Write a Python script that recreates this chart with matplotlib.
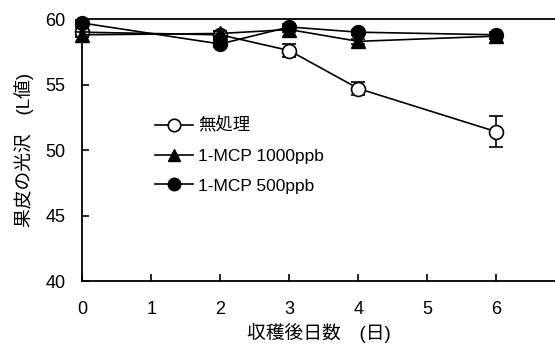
import matplotlib.pyplot as plt

plt.rcParams['font.family'] = ['Liberation Sans', 'Noto Sans CJK JP', 'DejaVu Sans']

# data
days = [0, 2, 3, 4, 6]
control = [59.0, 58.8, 57.6, 54.7, 51.4]
control_err = [0.3, 0.3, 0.5, 0.5, 1.2]
mcp1000 = [58.8, 58.9, 59.2, 58.3, 58.7]
mcp1000_err = [0.2, 0.2, 0.2, 0.2, 0.2]
mcp500 = [59.7, 58.1, 59.4, 59.0, 58.8]
mcp500_err = [0.2, 0.2, 0.2, 0.2, 0.2]
labels = ['無処理', '1-MCP 1000ppb', '1-MCP 500ppb']

fig = plt.figure(figsize=(5.55, 3.47), dpi=100)
ax = fig.add_axes([0.148, 0.19, 0.852, 0.755])

kw = dict(color='black', lw=1.2, capsize=5, elinewidth=1.2, capthick=1.2,
          ms=10, clip_on=False)
ax.errorbar(days, control, yerr=control_err, fmt='-o', mfc='white',
            mec='black', mew=1.2, label=labels[0], zorder=3, **kw)
ax.errorbar(days, mcp1000, yerr=mcp1000_err, fmt='-^', mfc='black',
            mec='black', label=labels[1], zorder=4, **kw)
ax.errorbar(days, mcp500, yerr=mcp500_err, fmt='-o', mfc='black',
            mec='black', label=labels[2], zorder=5, **kw)

ax.set_xlim(0, 6.85)
ax.set_ylim(40, 60)
ax.set_xticks(range(7))
ax.set_yticks([40, 45, 50, 55, 60])
ax.spines['right'].set_visible(False)
for s in ['left', 'bottom', 'top']:
    ax.spines[s].set_linewidth(1.3)
ax.tick_params(direction='in', length=5, width=1.2, labelsize=13, pad=12)
ax.tick_params(axis='x', pad=14)

ax.set_xlabel('収穫後日数　(日)', fontsize=13.5, labelpad=4)
ax.set_ylabel('果皮の光沢　(L値)', fontsize=13.5, labelpad=8)

handles, labs = ax.get_legend_handles_labels()
handles = [h[0] for h in handles]
ax.legend(handles, labs, loc='upper left', bbox_to_anchor=(0.12, 0.685),
          frameon=False, fontsize=12.5, handlelength=2.2, handletextpad=0.3,
          labelspacing=0.85, markerscale=0.9)

fig.savefig('out.png')
